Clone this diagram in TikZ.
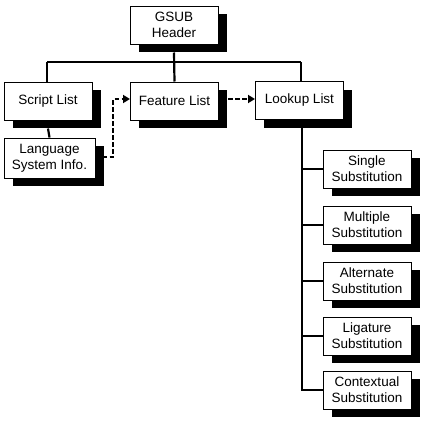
\documentclass[tikz,border=0pt]{standalone}
\usepackage{fontspec}
\setmainfont{Liberation Sans}
\usetikzlibrary{arrows.meta}
\tikzset{
  box/.style={draw=black, line width=1pt, fill=white, minimum width=88pt, minimum height=38pt,
    inner sep=0pt, align=center, font=\fontsize{13.5}{16}\selectfont,
    preaction={fill=black, transform canvas={shift={(8.5pt,-8pt)}}}},
  conn/.style={line width=2.2pt},
  dconn/.style={line width=2.2pt, dash pattern=on 4.5pt off 2.5pt, -{Triangle[length=7pt,width=8pt]}},
}
\begin{document}
\begin{tikzpicture}[x=1pt,y=-1pt]
\useasboundingbox (0,0) rectangle (424,423);
\fill[white] (0,0) rectangle (424,423);
\coordinate (hl) at (47,62);
\coordinate (hr) at (301,62);
\node[box] (gsub) at (174,25) {GSUB\\Header};
\node[box] (script) at (48,101) {Script List};
\node[box] (feature) at (174.5,101) {Feature List};
\node[box] (lookup) at (299.5,100.5) {Lookup List};
\node[box, minimum width=91pt, minimum height=40pt] (lang) at (49.5,158) {Language\\System Info.};
\node[box] (single) at (367,169) {Single\\Substitution};
\node[box] (multiple) at (367,225) {Multiple\\Substitution};
\node[box] (alternate) at (367,281) {Alternate\\Substitution};
\node[box] (ligature) at (367,336) {Ligature\\Substitution};
\node[box] (contextual) at (367,390) {Contextual\\Substitution};
\draw[conn] (gsub.south) ++(0,8) -- (feature.north);
\draw[conn] (hl) -- (hr);
\draw[conn] (hl) -- (hl |- script.north);
\draw[conn] (hr) -- (hr |- lookup.north);
\draw[conn] (script.south) ++(0,8) -- (lang.north);
\coordinate (vt) at (302,127.5);
\coordinate (vb) at (302,391);
\draw[conn] (vt) -- (vb);
\foreach \n in {single,multiple,alternate,ligature} \draw[conn] (302,0 |- \n.west) -- (\n.west);
\draw[conn] (301,0 |- contextual.west) -- (contextual.west);
\coordinate (dl1) at (102.5,157);
\coordinate (dl2) at (113,157);
\coordinate (dl3) at (113,99);
\draw[dconn] (dl1) -- (dl2) -- (dl3) -- (feature.west |- dl3);
\coordinate (dm) at (228,99);
\draw[dconn] (dm) -- (lookup.west |- dm);
\end{tikzpicture}
\end{document}
